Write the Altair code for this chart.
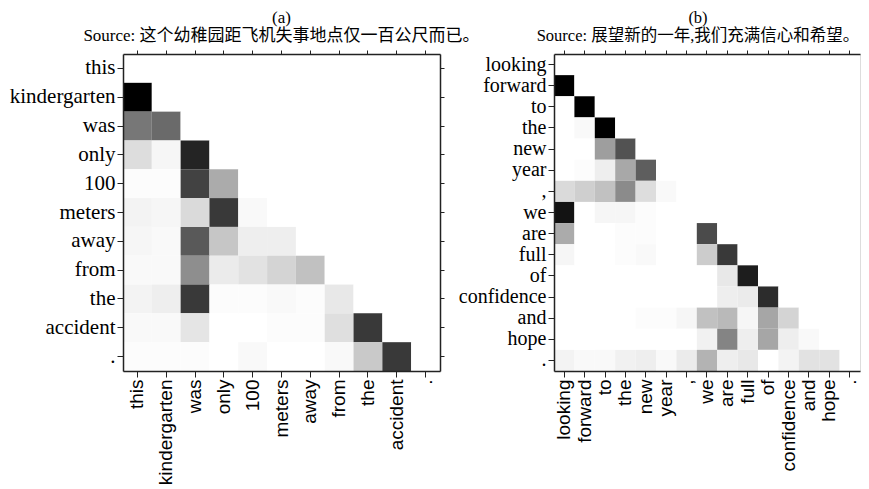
import altair as alt
import pandas as pd

# ---------------- data ----------------
tokens_a = ["this", "kindergarten", "was", "only", "100", "meters", "away",
            "from", "the", "accident", "."]
att_a = [
    [0, 0, 0, 0, 0, 0, 0, 0, 0, 0, 0],
    [1.00, 0, 0, 0, 0, 0, 0, 0, 0, 0, 0],
    [0.50, 0.55, 0, 0, 0, 0, 0, 0, 0, 0, 0],
    [0.12, 0.03, 0.86, 0, 0, 0, 0, 0, 0, 0, 0],
    [0.01, 0.01, 0.72, 0.30, 0, 0, 0, 0, 0, 0, 0],
    [0.04, 0.03, 0.13, 0.76, 0.02, 0, 0, 0, 0, 0, 0],
    [0.03, 0.02, 0.62, 0.20, 0.06, 0.06, 0, 0, 0, 0, 0],
    [0.02, 0.02, 0.41, 0.07, 0.10, 0.15, 0.22, 0, 0, 0, 0],
    [0.04, 0.06, 0.76, 0.01, 0.01, 0.02, 0.01, 0.08, 0, 0, 0],
    [0.02, 0.02, 0.09, 0, 0, 0.01, 0.01, 0.11, 0.76, 0, 0],
    [0.01, 0.01, 0.01, 0, 0.02, 0, 0, 0.02, 0.19, 0.76, 0],
]

tokens_b = ["looking", "forward", "to", "the", "new", "year", ",", "we", "are",
            "full", "of", "confidence", "and", "hope", "."]
att_b = [
    [0, 0, 0, 0, 0, 0, 0, 0, 0, 0, 0, 0, 0, 0, 0],
    [1.00, 0, 0, 0, 0, 0, 0, 0, 0, 0, 0, 0, 0, 0, 0],
    [0, 1.00, 0, 0, 0, 0, 0, 0, 0, 0, 0, 0, 0, 0, 0],
    [0, 0.02, 1.00, 0, 0, 0, 0, 0, 0, 0, 0, 0, 0, 0, 0],
    [0, 0, 0.35, 0.65, 0, 0, 0, 0, 0, 0, 0, 0, 0, 0, 0],
    [0, 0.01, 0.06, 0.31, 0.60, 0, 0, 0, 0, 0, 0, 0, 0, 0, 0],
    [0.13, 0.17, 0.22, 0.42, 0.12, 0.02, 0, 0, 0, 0, 0, 0, 0, 0, 0],
    [0.94, 0, 0.03, 0.03, 0.01, 0, 0, 0, 0, 0, 0, 0, 0, 0, 0],
    [0.30, 0, 0, 0.01, 0.01, 0, 0, 0.68, 0, 0, 0, 0, 0, 0, 0],
    [0.03, 0, 0, 0.01, 0.02, 0, 0, 0.18, 0.76, 0, 0, 0, 0, 0, 0],
    [0, 0, 0, 0, 0, 0, 0, 0, 0.08, 0.89, 0, 0, 0, 0, 0],
    [0, 0, 0, 0, 0, 0, 0, 0, 0.06, 0.07, 0.82, 0, 0, 0, 0],
    [0, 0, 0, 0, 0.01, 0.01, 0.03, 0.22, 0.25, 0.03, 0.32, 0.15, 0, 0, 0],
    [0, 0, 0, 0, 0, 0, 0, 0.05, 0.45, 0.06, 0.32, 0.06, 0.02, 0, 0],
    [0.04, 0.02, 0.02, 0.05, 0.06, 0.02, 0.07, 0.27, 0.06, 0.08, 0, 0.04, 0.10, 0.10, 0],
]

title_a = ["(a)", "Source: 这个幼稚园距飞机失事地点仅一百公尺而已。"]
title_b = ["(b)", "Source: 展望新的一年,我们充满信心和希望。"]

SERIF = "Liberation Serif, Noto Sans CJK SC"
SANS = "Liberation Sans"


def long_df(tokens, mat):
    recs = []
    for i, r in enumerate(tokens):
        for j, c in enumerate(tokens):
            recs.append({"row": r, "col": c, "v": mat[i][j]})
    return pd.DataFrame(recs)


def panel(tokens, mat, title, w, h, right_axis=True, tsize=17, tdx=0, ysize=21):
    df = long_df(tokens, mat)
    base = alt.Chart(df)
    band = alt.Scale(paddingInner=0, paddingOuter=0)
    common = dict(domainColor="#222222", domainWidth=1.5, tickColor="#222222",
                  tickWidth=1, zindex=1, title=None)
    main = base.mark_rect(stroke=None).encode(
        x=alt.X("col:N", sort=tokens, scale=band,
                axis=alt.Axis(orient="bottom", labelAngle=270, labelFont=SANS,
                              labelFontSize=19, labelColor="black", labelPadding=2,
                              tickSize=6, **common)),
        y=alt.Y("row:N", sort=tokens, scale=band,
                axis=alt.Axis(orient="left", labelFont="Liberation Serif",
                              labelFontSize=ysize, labelColor="black", labelPadding=2,
                              tickSize=6, **common)),
        color=alt.Color("v:Q", scale=alt.Scale(domain=[0, 1], range=["#ffffff", "#000000"]),
                        legend=None),
    )
    yax = alt.Axis(orient="right", labels=False, tickSize=4, **common) if right_axis \
        else alt.Axis(orient="right", labels=False, ticks=False, domain=False, title=None)
    mirror = base.mark_rect(opacity=0).encode(
        x=alt.X("col:N", sort=tokens, scale=band,
                axis=alt.Axis(orient="top", labels=False, tickSize=4, **common)),
        y=alt.Y("row:N", sort=tokens, scale=band, axis=yax),
    )
    return alt.layer(main, mirror).properties(
        width=w, height=h,
        title=alt.Title(text=title, font=SERIF, fontSize=tsize, fontWeight="normal",
                        lineHeight=18, offset=5, anchor="middle", frame="group",
                        dx=tdx, color="black"),
    )


pa = panel(tokens_a, att_a, title_a, 317, 317)
pb = panel(tokens_b, att_b, title_b, 306, 317, right_axis=False, tsize=16.5, tdx=-9,
           ysize=20)

chart = alt.hconcat(pa, pb, spacing=114, bounds="flush").properties(
    padding={"left": 0, "top": 0, "right": 0, "bottom": 0}
).configure_view(stroke=None).configure(background="white")

chart.save("out.html", embed_options={"renderer": "svg", "actions": False})
